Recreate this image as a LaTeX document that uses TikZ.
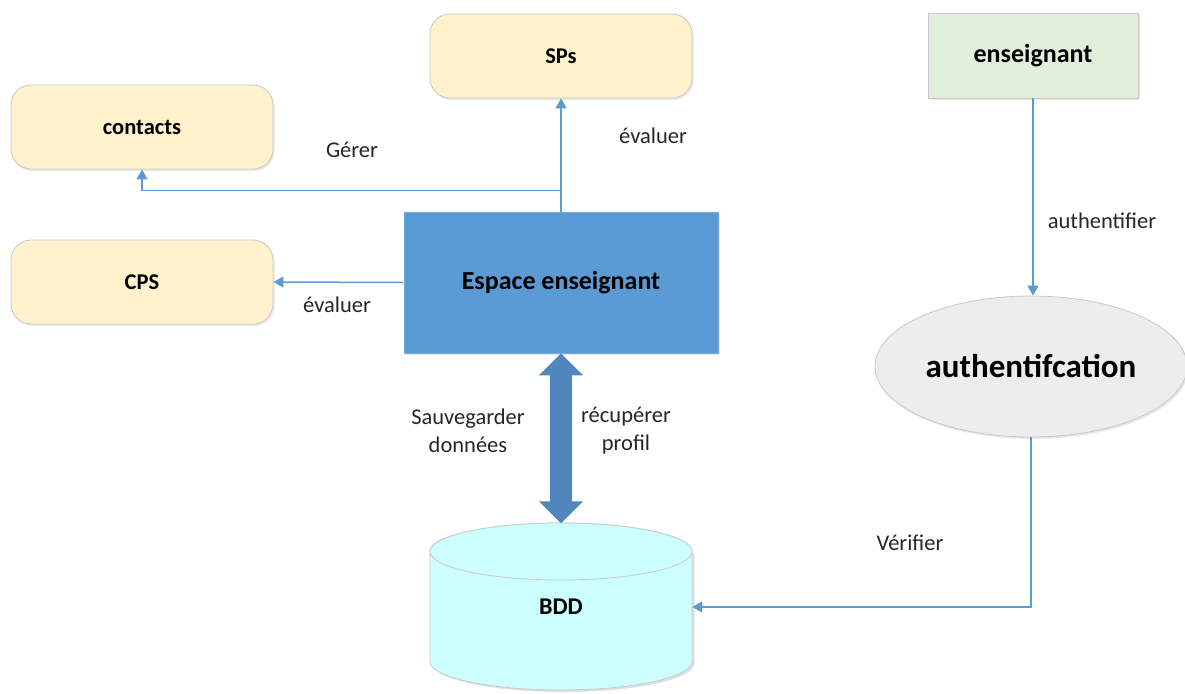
\documentclass[tikz,border=0pt]{standalone}
\usepackage{fontspec}
\setmainfont{Carlito}
\usetikzlibrary{shapes.geometric,arrows.meta,shadows,calc}
\definecolor{ybox}{HTML}{FFF2CC}
\definecolor{gbox}{HTML}{E2EFDA}
\definecolor{bbox}{HTML}{5B9BD5}
\definecolor{ebox}{HTML}{EDEDED}
\definecolor{cbox}{HTML}{CCFFFF}
\definecolor{edgegray}{HTML}{C8C8C8}
\definecolor{conncol}{HTML}{5B9BD5}
\definecolor{thickcol}{HTML}{4F86BE}
\definecolor{txt}{HTML}{262626}
\begin{document}
\begin{tikzpicture}[x=1pt,y=-1pt,
  softshadow/.style={drop shadow={opacity=0.18,shadow xshift=1.5pt,shadow yshift=-2pt}},
  yellowbox/.style={rectangle,rounded corners=20pt,draw=edgegray,line width=0.8pt,fill=ybox,
    minimum width=262pt,minimum height=84pt,font=\bfseries\fontsize{22.5}{26}\selectfont,softshadow},
  mainbox/.style={rectangle,fill=bbox,draw=bbox!85!white,line width=0.8pt,minimum width=314pt,minimum height=141pt,
    font=\bfseries\fontsize{26}{30}\selectfont,softshadow},
  greenbox/.style={rectangle,fill=gbox,draw=edgegray,line width=0.8pt,minimum width=210pt,minimum height=85pt,
    font=\bfseries\fontsize{26}{30}\selectfont,softshadow},
  authell/.style={ellipse,fill=ebox,draw=edgegray,line width=0.8pt,minimum width=312pt,minimum height=141pt,
    inner sep=0pt,font=\bfseries\fontsize{33}{38}\selectfont,softshadow},
  dbarea/.style={rectangle,draw=none,minimum width=262pt,minimum height=167pt,inner sep=0pt,
    font=\bfseries\fontsize{24}{28}\selectfont},
  lbl/.style={text=txt,font=\fontsize{22.5}{28}\selectfont,align=center,inner sep=0pt},
  conn/.style={draw=conncol,line width=1.5pt,-{Triangle[width=11pt,length=10pt]}},
  bigarrow/.style={draw=thickcol,line width=22pt,
    {Triangle[width=43pt,length=22pt]}-{Triangle[width=43pt,length=22pt]}}
]
\useasboundingbox (0,0) rectangle (1185,693);

% nodes
\node[yellowbox] (sps) at (561,56) {SPs};
\node[yellowbox] (contacts) at (142,127) {contacts};
\node[yellowbox] (cps) at (142,282) {CPS};
\node[mainbox] (esp) at (561,282.5) {Espace enseignant};
\node[greenbox] (ens) at (1033,55.5) {enseignant};
\node[authell] (auth) at (1031,366.5) {authentifcation};

% cylinder BDD
\fill[black,opacity=0.12] (432.5,553.5) -- (432.5,663.5) arc[start angle=180,end angle=360,x radius=131pt,y radius=28.5pt] -- (694.5,553.5) -- cycle;
\path[fill=cbox,draw=edgegray,line width=0.8pt]
  (430,551.5) -- (430,661.5) arc[start angle=180,end angle=360,x radius=131pt,y radius=28.5pt]
  -- (692,551.5) arc[start angle=0,end angle=180,x radius=131pt,y radius=28.5pt] -- cycle;
\draw[edgegray,line width=0.8pt,fill=cbox] (561,551.5) ellipse[x radius=131pt,y radius=28.5pt];
\node[dbarea] (bdd) at (561,607) {BDD};

% connectors
\coordinate (j) at ($(esp.north)+(0,-21)$);
\draw[conn] (esp.north) -- (sps.south);
\draw[conn] (esp.north) -- (j) -| (contacts.south);
\draw[conn] (esp.west) -- (cps.east);
\draw[conn] (ens.south) -- (ens.south |- auth.north);
\draw[conn] (auth.south) |- (bdd.east);
\draw[bigarrow] (bdd.north) -- (esp.south);

% labels
\node[lbl] (lgerer) at (352,150) {Gérer};
\node[lbl] (leval1) at (653,136) {évaluer};
\node[lbl] (leval2) at (337,305) {évaluer};
\node[lbl] (lsauv) at (468,431) {Sauvegarder\\données};
\node[lbl] (lrecup) at (626,431) {récupérer\\profil};
\node[lbl] (lauth) at (1102,221) {authentifier};
\node[lbl] (lverif) at (910,543) {Vérifier};
\end{tikzpicture}
\end{document}
